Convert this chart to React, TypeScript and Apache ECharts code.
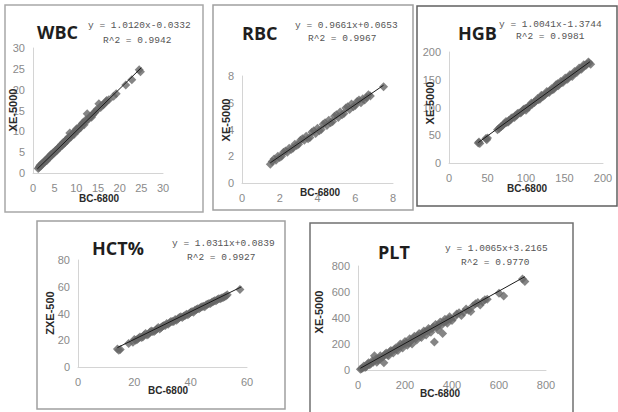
import React, { useEffect, useRef } from "react";
import * as echarts from "echarts";

// ---------- data ----------
const panelNames = ["WBC", "RBC", "HGB", "HCT%", "PLT"];
const yAxisTitles = ["XE-5000", "XE-5000", "XE-5000", "ZXE-500", "XE-5000"];
const xAxisTitle = "BC-6800";
const equations = [
  "y = 1.0120x-0.0332",
  "y = 0.9661x+0.0653",
  "y = 1.0041x-1.3744",
  "y = 1.0311x+0.0839",
  "y = 1.0065x+3.2165",
];
const rSquared = [
  "R^2 = 0.9942",
  "R^2 = 0.9967",
  "R^2 = 0.9981",
  "R^2 = 0.9927",
  "R^2 = 0.9770",
];
const axisMax = [30, 8, 200, 60, 800];
const axisYMax = [30, 8, 200, 80, 800];
const axisStep = [5, 2, 50, 20, 200];

const wbcPoints = [
  [1.2, 1.1], [1.4, 1.3], [1.5, 1.6], [1.7, 1.9], [1.8, 1.7], [2.0, 2.1], [2.2, 2.4],
  [2.3, 2.2], [2.5, 2.6], [2.7, 2.9], [2.8, 2.7], [3.0, 3.1], [3.2, 3.0], [3.3, 3.5],
  [3.5, 3.6], [3.7, 3.9], [3.8, 3.7], [4.0, 4.2], [4.2, 4.5], [4.3, 4.2], [4.6, 4.7],
  [4.7, 4.9], [4.9, 4.8], [5.2, 5.4], [5.3, 5.2], [5.5, 5.4], [5.7, 5.8], [5.8, 6.0],
  [6.1, 6.0], [6.2, 6.3], [6.4, 6.6], [6.6, 6.9], [6.7, 6.6], [7.0, 7.3], [7.1, 7.0],
  [7.3, 7.2], [7.5, 7.6], [7.6, 7.9], [7.9, 7.8], [8.0, 8.2], [8.2, 8.6], [8.4, 8.4],
  [8.5, 9.6], [8.8, 8.7], [9.0, 9.1], [9.2, 9.5], [9.5, 9.3], [9.7, 9.9], [9.9, 10.3],
  [10.1, 10.6], [10.3, 10.2], [10.5, 10.5], [10.7, 11.1], [11.0, 10.9], [11.2, 11.4],
  [11.4, 11.9], [11.6, 12.1], [11.8, 11.6], [12.0, 12.2], [12.2, 12.8], [12.5, 14.2],
  [12.8, 12.9], [13.0, 13.3], [13.3, 13.6], [13.5, 13.4], [13.8, 14.0], [14.0, 14.4],
  [14.3, 14.5], [14.5, 14.9], [14.8, 15.3], [15.2, 16.6], [15.6, 15.7], [15.8, 16.2],
  [16.2, 16.4], [16.5, 16.6], [16.8, 17.1], [17.0, 17.4], [17.5, 17.6], [18.6, 18.4],
  [19.2, 19.0], [21.4, 21.1], [22.8, 22.4], [24.5, 24.8], [24.8, 24.3],
];
const rbcPoints = [
  [1.5, 1.4], [1.6, 1.6], [1.7, 1.8], [1.8, 1.7], [1.9, 2.0], [2.0, 1.9], [2.1, 2.0],
  [2.2, 2.3], [2.3, 2.4], [2.4, 2.3], [2.5, 2.6], [2.6, 2.5], [2.7, 2.6], [2.8, 2.9],
  [2.9, 2.8], [3.0, 2.9], [3.1, 3.2], [3.2, 3.3], [3.3, 3.2], [3.4, 3.5], [3.5, 3.3],
  [3.6, 3.4], [3.7, 3.8], [3.8, 3.9], [3.9, 3.7], [4.0, 4.1], [4.1, 3.9], [4.2, 4.0],
  [4.3, 4.4], [4.4, 4.5], [4.5, 4.3], [4.6, 4.7], [4.7, 4.5], [4.8, 4.6], [4.9, 5.0],
  [5.0, 5.1], [5.1, 4.9], [5.2, 5.3], [5.3, 5.1], [5.4, 5.2], [5.5, 5.6], [5.6, 5.7],
  [5.7, 5.5], [5.8, 5.9], [5.9, 5.7], [6.0, 5.8], [6.1, 6.1], [6.2, 6.2], [6.3, 6.0],
  [6.4, 6.3], [6.5, 6.2], [6.6, 6.4], [6.7, 6.6], [6.8, 6.5], [7.5, 7.2],
];
const hgbPoints = [
  [38, 36], [40, 35], [39, 38], [48, 44], [50, 45], [49, 42], [63, 60], [65, 62],
  [67, 65], [68, 66], [70, 68], [72, 71], [74, 75], [75, 73], [77, 74], [78, 77],
  [80, 78], [81, 81], [83, 82], [85, 82], [86, 85], [88, 86], [89, 89], [91, 90],
  [93, 90], [94, 92], [96, 95], [97, 97], [99, 98], [100, 95], [101, 99], [102, 100],
  [104, 101], [105, 104], [107, 108], [108, 106], [110, 109], [111, 109], [113, 112],
  [115, 116], [116, 114], [118, 115], [119, 118], [120, 122], [121, 121], [122, 120],
  [124, 122], [125, 124], [127, 129], [128, 127], [130, 127], [131, 130], [133, 134],
  [134, 132], [136, 133], [137, 136], [139, 141], [140, 139], [141, 143], [142, 139],
  [143, 142], [145, 147], [146, 145], [148, 145], [149, 148], [151, 153], [152, 151],
  [154, 151], [155, 154], [157, 159], [158, 157], [160, 156], [161, 160], [163, 165],
  [164, 163], [166, 163], [167, 166], [169, 171], [170, 169], [172, 169], [173, 172],
  [175, 177], [176, 175], [178, 176], [179, 178], [181, 182], [182, 180], [184, 178],
];
const hctPoints = [
  [14, 13.5], [15, 13], [14.5, 12.5], [18, 17.5], [19.5, 18.5], [20, 20.5], [20.5, 20],
  [21, 20.5], [21.5, 21.5], [22, 22.5], [22.5, 22], [23, 22.5], [23.5, 24], [24, 25],
  [24.5, 24], [25, 24.5], [25.5, 26], [26, 27], [26.5, 26.5], [27, 26.5], [27.5, 27.5],
  [28, 28.5], [28.5, 29.5], [29, 28.5], [29.5, 29.5], [30, 30.5], [30.5, 31], [31, 31],
  [31.5, 32.5], [32, 32], [32.5, 33], [33, 34], [33.5, 34], [34, 34], [34.5, 35.5],
  [35, 35], [35.5, 36], [36, 37], [36.5, 37.5], [37, 37], [37.5, 38], [38, 38.5],
  [38.5, 39.5], [39, 39], [39.5, 40], [40, 41], [40.5, 41.5], [41, 41], [41.5, 42.5],
  [42, 43], [42.5, 43.5], [43, 43.5], [43.5, 44.5], [44, 45], [44.5, 45.5], [45, 45],
  [45.5, 46.5], [46, 47], [46.5, 47.5], [47, 47.5], [47.5, 48.5], [48, 49], [48.5, 49.5],
  [49, 49.5], [49.5, 50.5], [50, 51], [50.5, 51], [51, 51.5], [51.5, 52], [52, 52.5],
  [52.5, 53], [53, 54], [57.5, 58],
];
const pltPoints = [
  [10, 5], [15, 10], [20, 15], [25, 30], [30, 20], [35, 25], [40, 45], [45, 55],
  [50, 40], [55, 50], [60, 70], [65, 60], [70, 110], [75, 80], [80, 60], [85, 75],
  [90, 90], [95, 110], [100, 95], [105, 100], [110, 55], [115, 120], [120, 130],
  [125, 115], [130, 110], [135, 140], [140, 150], [145, 145], [150, 130], [155, 160],
  [160, 170], [165, 160], [170, 150], [175, 180], [180, 200], [185, 185], [190, 170],
  [195, 200], [200, 220], [205, 210], [210, 190], [215, 205], [220, 240], [225, 225],
  [230, 200], [235, 245], [240, 260], [245, 240], [250, 230], [255, 265], [260, 280],
  [265, 260], [270, 250], [275, 280], [280, 300], [285, 290], [290, 270], [295, 300],
  [300, 320], [305, 310], [310, 290], [315, 320], [320, 330], [325, 215], [330, 350],
  [335, 330], [340, 310], [345, 350], [350, 370], [355, 345], [360, 280], [365, 370],
  [370, 390], [375, 375], [380, 360], [385, 390], [390, 410], [395, 395], [400, 380],
  [410, 405], [420, 430], [430, 440], [440, 420], [450, 445], [460, 470], [470, 460],
  [480, 450], [490, 495], [500, 510], [510, 520], [520, 500], [530, 525], [540, 540],
  [550, 545], [600, 590], [620, 570], [700, 700], [710, 680],
];
const allPoints = [wbcPoints, rbcPoints, hgbPoints, hctPoints, pltPoints];

const trendLines = [
  [[1, 0.98], [25, 25.27]],
  [[1.5, 1.51], [7.5, 7.31]],
  [[38, 36.8], [183, 182.4]],
  [[14, 14.5], [58, 59.9]],
  [[10, 13.3], [710, 717.8]],
];

// ---------- layout ----------
const grids = [
  { left: 33, top: 48, width: 130, height: 125 },
  { left: 242, top: 76, width: 151, height: 107 },
  { left: 449, top: 52, width: 154, height: 111 },
  { left: 78, top: 260, width: 169, height: 107 },
  { left: 358, top: 266, width: 188, height: 104 },
];
const boxes = [
  { x: 5, y: 5, w: 198, h: 207, c: "#a8a8a8" },
  { x: 213, y: 5, w: 200, h: 205, c: "#a0a0a0" },
  { x: 417, y: 6, w: 200, h: 200, c: "#606060" },
  { x: 37, y: 221, w: 248, h: 188, c: "#a0a0a0" },
  { x: 310, y: 223, w: 263, h: 195, c: "#707070" },
];
const titlePos = [[37, 32], [242, 33], [458, 33], [92, 248], [378, 252]];
const eq1Pos = [[88, 25], [295, 25], [499, 24], [172, 243], [445, 248]];
const eq2Pos = [[103, 40], [308, 38], [516, 36], [187, 257], [461, 262]];
const yTitlePos = [[13, 110], [226, 120], [430, 103], [50, 313], [319, 312]];
const xTitlePos = [[99, 198], [320, 192], [527, 188], [168, 390], [440, 393]];

export default function App() {
  const ref = useRef<HTMLDivElement>(null);
  useEffect(() => {
    if (!ref.current) return;
    const chart = echarts.init(ref.current, null, { renderer: "svg" });
    const labelStyle = {
      color: "#8a8a8a",
      fontSize: 11,
      fontFamily: "'Liberation Sans Narrow', 'Liberation Sans', sans-serif",
    };
    const xAxes = grids.map((_, i) => ({
      type: "value",
      gridIndex: i,
      min: 0,
      max: axisMax[i],
      interval: axisStep[i],
      axisLine: { show: true, lineStyle: { color: "#d4d4d4", width: 1 } },
      axisTick: { show: false },
      splitLine: { show: false },
      axisLabel: { ...labelStyle, margin: 9 },
    }));
    const yAxes = grids.map((_, i) => ({
      type: "value",
      gridIndex: i,
      min: 0,
      max: axisYMax[i],
      interval: axisStep[i],
      axisLine: { show: true, lineStyle: { color: "#d4d4d4", width: 1 } },
      axisTick: { show: false },
      splitLine: { show: false },
      axisLabel: { ...labelStyle, margin: 8 },
    }));
    const series: any[] = [];
    allPoints.forEach((pts, i) => {
      series.push({
        type: "scatter",
        xAxisIndex: i,
        yAxisIndex: i,
        data: pts,
        symbol: "diamond",
        symbolSize: 9,
        itemStyle: { color: "#666666" },
        z: 2,
      });
      series.push({
        type: "line",
        xAxisIndex: i,
        yAxisIndex: i,
        data: trendLines[i],
        showSymbol: false,
        symbol: "none",
        lineStyle: { color: "#1a1a1a", width: 1 },
        z: 3,
      });
    });
    const graphics: any[] = [];
    boxes.forEach((b) => {
      graphics.push({
        type: "rect",
        shape: { x: b.x, y: b.y, width: b.w, height: b.h },
        style: { fill: "none", stroke: b.c, lineWidth: 1.5 },
        z: 0,
        silent: true,
      });
    });
    panelNames.forEach((name, i) => {
      graphics.push({
        type: "text",
        x: titlePos[i][0],
        y: titlePos[i][1],
        z: 100,
        style: {
          text: name,
          fill: "#1e1e1e",
          font: "bold 18px 'Open Sans', 'Liberation Sans', sans-serif",
          align: "left",
          verticalAlign: "middle",
        },
      });
      graphics.push({
        type: "text",
        x: eq1Pos[i][0],
        y: eq1Pos[i][1],
        z: 100,
        style: {
          text: equations[i],
          fill: "#555",
          font: "9.5px 'Liberation Mono', 'DejaVu Sans Mono', monospace",
          align: "left",
          verticalAlign: "middle",
        },
      });
      graphics.push({
        type: "text",
        x: eq2Pos[i][0],
        y: eq2Pos[i][1],
        z: 100,
        style: {
          text: rSquared[i],
          fill: "#555",
          font: "9.5px 'Liberation Mono', 'DejaVu Sans Mono', monospace",
          align: "left",
          verticalAlign: "middle",
        },
      });
      graphics.push({
        type: "text",
        x: yTitlePos[i][0],
        y: yTitlePos[i][1],
        rotation: Math.PI / 2,
        z: 100,
        style: {
          text: yAxisTitles[i],
          fill: "#2a2a2a",
          font: "bold 11px 'Liberation Sans Narrow', 'Liberation Sans', sans-serif",
          align: "center",
          verticalAlign: "middle",
        },
      });
      graphics.push({
        type: "text",
        x: xTitlePos[i][0],
        y: xTitlePos[i][1],
        z: 100,
        style: {
          text: xAxisTitle,
          fill: "#2a2a2a",
          font: "bold 10px 'Liberation Sans Narrow', 'Liberation Sans', sans-serif",
          align: "center",
          verticalAlign: "middle",
        },
      });
    });
    chart.setOption({
      animation: false,
      backgroundColor: "#ffffff",
      grid: grids.map((g) => ({ ...g, containLabel: false })),
      xAxis: xAxes,
      yAxis: yAxes,
      series,
      graphic: { elements: graphics },
    });
    return () => chart.dispose();
  }, []);
  return (
    <div
      ref={ref}
      style={{ position: "fixed", left: 0, top: 0, width: 618, height: 412, background: "#fff" }}
    />
  );
}
